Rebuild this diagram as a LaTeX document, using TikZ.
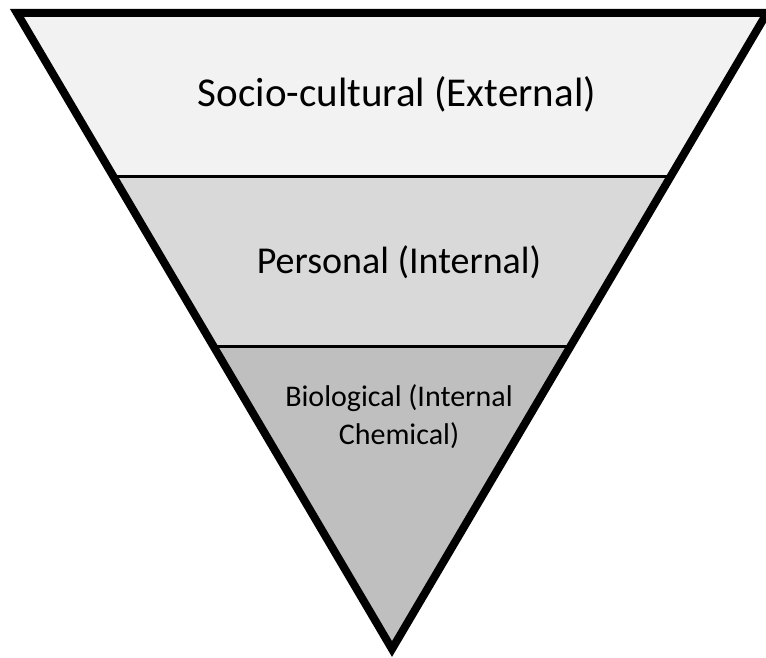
\documentclass[tikz,border=0pt]{standalone}
\usepackage{fontspec}
\setmainfont{Carlito}
\usetikzlibrary{calc}

\begin{document}
\begin{tikzpicture}[x=1pt,y=-1pt,
    outline/.style={draw=black,line width=8pt,miter limit=20},
    divider/.style={draw=black,line width=3pt},
    toptext/.style={draw=none,anchor=base,font=\fontsize{41}{48}\selectfont},
    midtext/.style={draw=none,anchor=base,font=\fontsize{38}{46}\selectfont},
    lowtext/.style={draw=none,anchor=base,align=center,font=\fontsize{30}{38}\selectfont}]
    \useasboundingbox (0,0) rectangle (766,658);
    \coordinate (L) at (17,13);
    \coordinate (R) at (767,13);
    \coordinate (T) at (392,649);

    \begin{scope}
        \clip (L) -- (R) -- (T) -- cycle;
        \fill[black!5] (0,0) rectangle (770,176);
        \fill[black!15] (0,176) rectangle (770,346);
        \fill[black!25] (0,346) rectangle (770,660);
    \end{scope}

    \draw[divider] ($(L)!0.2563!(T)$) -- ($(R)!0.2563!(T)$);
    \draw[divider] ($(L)!0.5236!(T)$) -- ($(R)!0.5236!(T)$);
    \draw[outline] (L) -- (R) -- (T) -- cycle;

    \node[toptext] (S) at (397,107) {Socio-cultural (External)};
    \node[midtext] (P) at (399,273) {Personal (Internal)};
    \node[lowtext] (B) at (399,444) {Biological (Internal\\Chemical)};
\end{tikzpicture}
\end{document}
